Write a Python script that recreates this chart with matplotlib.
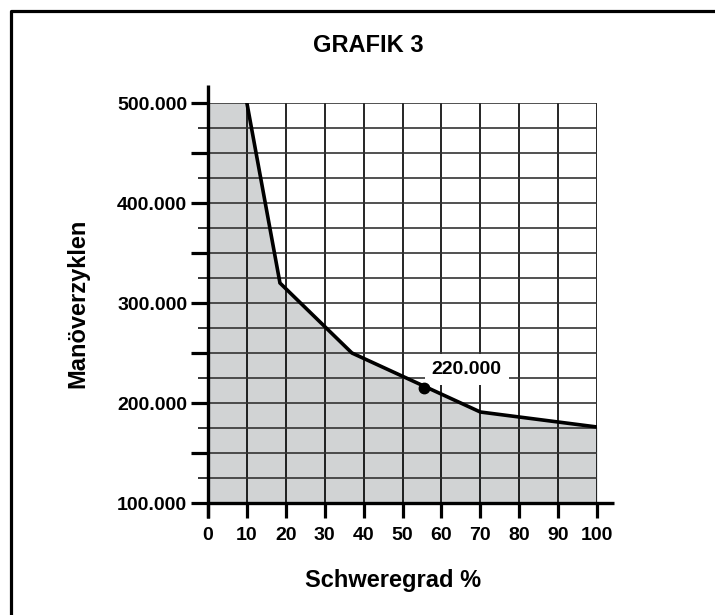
import matplotlib.pyplot as plt
from matplotlib.lines import Line2D
from matplotlib.ticker import MultipleLocator, FuncFormatter

# curve (Schweregrad % -> Manöverzyklen)
schweregrad = [0, 10, 18.5, 37, 70, 100]
zyklen = [500000, 500000, 320000, 250000, 191000, 176000]

# marked point and its label
punkt_x = 55.5
punkt_y = 215000
punkt_text = '220.000'

x_ticks = [0, 10, 20, 30, 40, 50, 60, 70, 80, 90, 100]
y_labels = {100000: '100.000', 200000: '200.000', 300000: '300.000',
            400000: '400.000', 500000: '500.000'}

plt.rcParams['font.family'] = ['Liberation Sans', 'DejaVu Sans']
plt.rcParams['font.weight'] = 'bold'

fig = plt.figure(figsize=(7.15, 6.15), dpi=100)
ax = fig.add_axes([208 / 715, 1 - 503 / 615, 389 / 715, 400 / 615])

# grey area under the curve
ax.fill_between(schweregrad, zyklen, 100000, color='#d1d3d4', lw=0, zorder=1)
ax.plot(schweregrad[1:], zyklen[1:], color='black', lw=2.6,
        solid_joinstyle='miter', zorder=4)
ax.plot(punkt_x, punkt_y, 'o', color='black', ms=7.5, zorder=8)
ax.text(66.5, 234000, punkt_text, ha='center', va='center', fontsize=14,
        fontweight='bold', zorder=6,
        bbox=dict(facecolor='white', edgecolor='none', pad=5))

ax.set_xlim(0, 100)
ax.set_ylim(100000, 500000)
ax.set_xticks(x_ticks)
ax.yaxis.set_major_locator(MultipleLocator(50000))
ax.yaxis.set_minor_locator(MultipleLocator(25000))
ax.yaxis.set_major_formatter(FuncFormatter(lambda v, p: y_labels.get(int(round(v)), '')))

# grid
ax.set_axisbelow(False)
ax.grid(axis='x', which='major', color='black', lw=1.2, zorder=2)
ax.grid(axis='y', which='both', color='#333333', lw=1.2, zorder=2)

for s in ax.spines.values():
    s.set_visible(False)

ax.tick_params(axis='both', which='major', direction='out', width=2.3,
               labelsize=14, color='black')
ax.tick_params(axis='y', which='major', length=12, pad=3)
ax.tick_params(axis='x', which='major', length=11, pad=6)
ax.tick_params(axis='y', which='minor', length=7, width=1.1)
for lab in ax.get_xticklabels() + ax.get_yticklabels():
    lab.set_fontweight('bold')

# axis lines, drawn longer than the data range
ax.plot([0, 0], [-0.038, 1.045], transform=ax.transAxes, color='black',
        lw=2.4, clip_on=False, zorder=7, solid_capstyle='butt')
ax.plot([0, 1.044], [0, 0], transform=ax.transAxes, color='black',
        lw=2.4, clip_on=False, zorder=7, solid_capstyle='butt')

fig.text(368 / 715, 1 - 45 / 615, 'GRAFIK 3', ha='center', va='center',
         fontsize=17, fontweight='bold')
fig.text(393 / 715, 1 - 580 / 615, 'Schweregrad %', ha='center', va='center',
         fontsize=17, fontweight='bold')
fig.text(78 / 715, 1 - 303 / 615, 'Manöverzyklen', ha='center', va='center',
         rotation=90, fontsize=17, fontweight='bold')

# frame (left and top only)
fig.add_artist(Line2D([10.5 / 715, 10.5 / 715, 1], [0, 1 - 10.5 / 615, 1 - 10.5 / 615],
                      transform=fig.transFigure, color='black', lw=2.3))

fig.savefig('out.png', dpi=100)
